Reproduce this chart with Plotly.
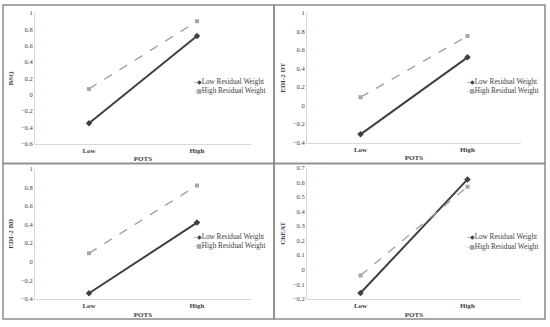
import plotly.graph_objects as go

W, H = 550, 327

categories = ["Low", "High"]
series_names = ["Low Residual Weight", "High Residual Weight"]

bsq_low_rw = [-0.35, 0.72]
bsq_high_rw = [0.07, 0.90]
dt_low_rw = [-0.31, 0.52]
dt_high_rw = [0.09, 0.75]
bd_low_rw = [-0.34, 0.42]
bd_high_rw = [0.09, 0.82]
cheat_low_rw = [-0.16, 0.62]
cheat_high_rw = [-0.04, 0.57]

panel_titles = ["BSQ", "EDI-2 DT", "EDI-2 BD", "ChEAT"]
x_title = "POTS"
y_ranges = [(-0.6, 1.0), (-0.4, 1.0), (-0.4, 1.0), (-0.2, 0.7)]
y_steps = [0.2, 0.2, 0.2, 0.1]

panels = [
    (bsq_low_rw, bsq_high_rw),
    (dt_low_rw, dt_high_rw),
    (bd_low_rw, bd_high_rw),
    (cheat_low_rw, cheat_high_rw),
]

# plot-area pixel boxes (x0, x1, ytop, ybottom)
boxes = [
    (35, 251, 9.3, 142.7),
    (307, 521, 9.0, 141.7),
    (35, 251, 168.3, 301.3),
    (307, 521, 167.3, 301.3),
]
# legend left x and row centre y's per panel
legend_pos = [(192, 80, 89), (465, 80, 89), (192, 238, 247), (465, 238, 248)]
frames = [(3, 274, 1, 163), (274, 545, 1, 163), (3, 274, 163, 322), (274, 545, 163, 322)]

FONT = "Liberation Serif, Times New Roman, serif"
TXT = "#404040"
DARK = "#404040"
LIGHT = "#a6a6a6"
AXL = "#d9d9d9"
legend_glyphs = [
    "<span style='font-family:DejaVu Sans;font-size:6px;fill:%s'>–◆</span>" % DARK,
    "<span style='font-family:DejaVu Sans;font-size:6px;fill:%s'>-■</span>" % LIGHT,
]

fig = go.Figure()
layout = dict(
    width=W, height=H, margin=dict(l=0, r=0, t=0, b=0),
    paper_bgcolor="white", plot_bgcolor="white",
    font=dict(family=FONT, size=7, color=TXT),
    showlegend=False,
    shapes=[], annotations=[],
)

for i, ((low, high), title, yr, st, box, lp) in enumerate(
        zip(panels, panel_titles, y_ranges, y_steps, boxes, legend_pos)):
    n = "" if i == 0 else str(i + 1)
    xa, ya = "x" + n, "y" + n
    styles = [
        dict(line=dict(color=DARK, width=2), marker=dict(symbol="diamond", size=5, color=DARK)),
        dict(line=dict(color=LIGHT, width=1.5, dash="dash"),
             marker=dict(symbol="square", size=4, color=LIGHT)),
    ]
    for k, (vals, sty) in enumerate(zip((low, high), styles)):
        fig.add_trace(go.Scatter(
            x=categories, y=vals, name=series_names[k], mode="lines+markers",
            xaxis=xa, yaxis=ya, **sty))
        layout["annotations"].append(dict(
            xref="paper", yref="paper", x=lp[0] / W, y=1 - lp[1 + k] / H,
            xanchor="left", yanchor="middle", showarrow=False,
            text=legend_glyphs[k] + series_names[k],
            font=dict(family=FONT, size=7.2, color=TXT)))
    x0, x1, yt, yb = box
    layout["xaxis" + n] = dict(
        domain=[x0 / W, x1 / W], anchor=ya, type="category", range=[-0.5, 1.5],
        showline=True, linecolor=AXL, linewidth=1, showgrid=False, zeroline=False,
        ticks="", tickfont=dict(family=FONT, size=7, color=TXT, weight="bold"),
        title=dict(text="<b>" + x_title + "</b>", font=dict(size=7, color=TXT), standoff=2),
    )
    layout["yaxis" + n] = dict(
        domain=[1 - yb / H, 1 - yt / H], anchor=xa, range=list(yr), dtick=st, tick0=0,
        showline=True, linecolor=AXL, linewidth=1, showgrid=False, zeroline=False,
        ticks="", tickfont=dict(family=FONT, size=6.5, color=TXT),
        title=dict(text="<b>" + title + "</b>", font=dict(size=7, color=TXT), standoff=6),
    )
    fx0, fx1, fy0, fy1 = frames[i]
    layout["shapes"].append(dict(
        type="rect", xref="paper", yref="paper",
        x0=fx0 / W, x1=fx1 / W, y0=1 - fy1 / H, y1=1 - fy0 / H,
        line=dict(color="#8c8c8c", width=1.5)))

fig.update_layout(**layout)
fig.write_html(
    "out.html",
    config={"displayModeBar": False},
    post_script="document.body.style.margin='0';document.body.style.padding='0';"
                "document.body.style.overflow='hidden';",
)
